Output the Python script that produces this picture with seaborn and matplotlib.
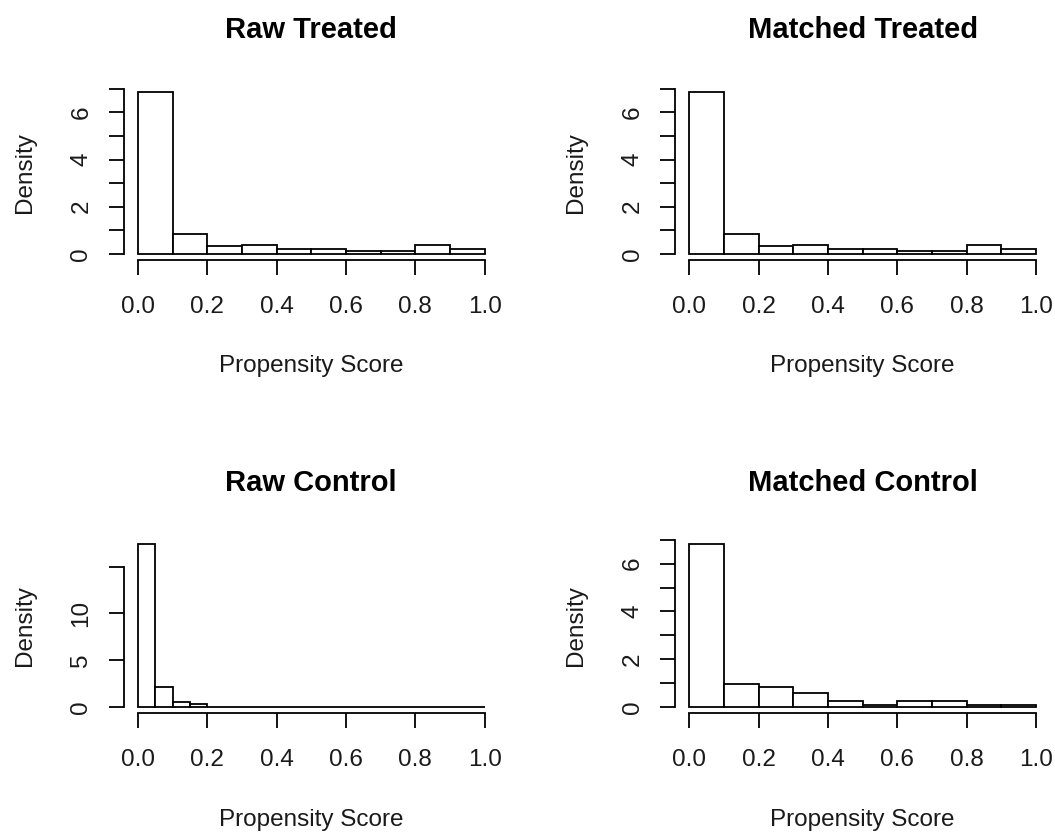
import numpy as np
import pandas as pd
import matplotlib
matplotlib.use("Agg")
import matplotlib.pyplot as plt
import seaborn as sns

# %% datos (densidades por intervalo)

bordes_01 = [0.0, 0.1, 0.2, 0.3, 0.4, 0.5, 0.6, 0.7, 0.8, 0.9, 1.0]
bordes_005 = [0.0, 0.05, 0.1, 0.15, 0.2, 0.25, 0.3, 0.35, 0.4, 0.45, 0.5,
              0.55, 0.6, 0.65, 0.7, 0.75, 0.8, 0.85, 0.9, 0.95, 1.0]

raw_treated = [6.87, 0.85, 0.31, 0.38, 0.21, 0.21, 0.13, 0.13, 0.38, 0.21]
matched_treated = [6.87, 0.85, 0.31, 0.38, 0.21, 0.21, 0.13, 0.13, 0.38, 0.21]
raw_control = [17.4, 2.07, 0.50, 0.29, 0, 0, 0, 0, 0, 0,
               0, 0, 0, 0, 0, 0, 0, 0, 0, 0]
matched_control = [6.81, 0.95, 0.81, 0.57, 0.25, 0.08, 0.25, 0.25, 0.08, 0.08]

ticks_x = [0.0, 0.2, 0.4, 0.6, 0.8, 1.0]
etiquetas_x = ['0.0', '0.2', '0.4', '0.6', '0.8', '1.0']
ticks_y_7 = [0, 1, 2, 3, 4, 5, 6, 7]
etiquetas_y_7 = ['0', '', '2', '', '4', '', '6', '']
ticks_y_15 = [0, 5, 10, 15]
etiquetas_y_15 = ['0', '5', '10', '']

# %% estilo

sns.set_style("ticks")
plt.rcParams['font.family'] = ['Liberation Sans', 'DejaVu Sans']
plt.rcParams['text.color'] = 'black'
plt.rcParams['axes.labelcolor'] = 'black'
plt.rcParams['xtick.color'] = 'black'
plt.rcParams['ytick.color'] = 'black'

lw = 1.3
fs = 17.5

fig = plt.figure(figsize=(10.55, 8.34), dpi=100)

paneles = [
    ("Raw Treated", bordes_01, raw_treated, [0.1175, 0.688, 0.355, 0.2095], ticks_y_7, etiquetas_y_7),
    ("Matched Treated", bordes_01, matched_treated, [0.6402, 0.688, 0.355, 0.2095], ticks_y_7, etiquetas_y_7),
    ("Raw Control", bordes_005, raw_control, [0.1175, 0.1448, 0.355, 0.2103], ticks_y_15, etiquetas_y_15),
    ("Matched Control", bordes_01, matched_control, [0.6402, 0.1448, 0.355, 0.2103], ticks_y_7, etiquetas_y_7),
]

for titulo, bordes, dens, pos, ty, ety in paneles:
    ax = fig.add_axes(pos)
    b = np.array(bordes)
    centros = (b[:-1] + b[1:]) / 2
    df = pd.DataFrame({'score': centros, 'dens': dens})
    sns.histplot(data=df, x='score', weights='dens', bins=bordes, stat='count',
                 color='white', edgecolor='black', linewidth=lw, alpha=1, ax=ax)

    m = max(dens)
    ax.set_xlim(-0.04, 1.04)
    ax.set_ylim(-0.04 * m, 1.04 * m)

    for s in ['top', 'right']:
        ax.spines[s].set_visible(False)
    ax.spines['left'].set_bounds(ty[0], ty[-1])
    ax.spines['bottom'].set_bounds(0, 1)
    ax.spines['left'].set_linewidth(lw)
    ax.spines['bottom'].set_linewidth(lw)
    ax.spines['left'].set_color('black')
    ax.spines['bottom'].set_color('black')

    ax.set_xticks(ticks_x)
    ax.set_xticklabels(etiquetas_x, fontsize=fs, color='#1a1a1a')
    ax.set_yticks(ty)
    ax.set_yticklabels(ety, fontsize=fs, rotation=90, va='center', color='#1a1a1a')
    ax.tick_params(axis='both', direction='out', length=10.8, width=lw)
    ax.tick_params(axis='x', pad=15)
    ax.tick_params(axis='y', pad=12)

    ax.set_title(titulo, fontsize=21, fontweight='bold', pad=34)
    ax.set_xlabel('Propensity Score', fontsize=fs, va='top', color='#1a1a1a')
    ax.set_ylabel('Density', fontsize=fs, color='#1a1a1a')
    ax.xaxis.set_label_coords(0.5, -0.545)
    ax.yaxis.set_label_coords(-0.235, 0.5)

fig.savefig('out.png', dpi=100, facecolor='white')
